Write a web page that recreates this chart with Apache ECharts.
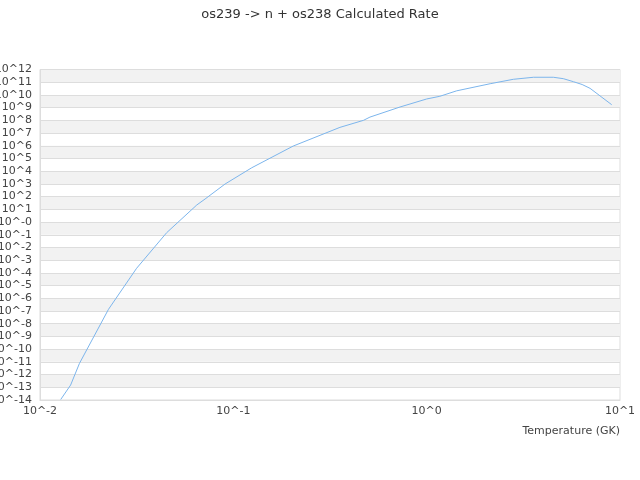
<!DOCTYPE html>
<html>
<head>
<meta charset="utf-8">
<script src="https://cdn.jsdelivr.net/npm/echarts@6/dist/echarts.min.js"></script>
<style>html,body{margin:0;padding:0;background:#fff}#c{width:640px;height:480px}</style>
</head>
<body>
<div id="c"></div>
<script>
const titleText = 'os239 -> n + os238 Calculated Rate';
const xAxisName = 'Temperature (GK)';
const temperatures = [0.0128, 0.0144, 0.016, 0.0226, 0.0316, 0.0452, 0.0647, 0.0714, 0.0906, 0.1245, 0.204, 0.356, 0.471, 0.509, 0.728, 1.0, 1.17, 1.43, 2.13, 2.81, 3.57, 4.52, 5.09, 5.74, 6.37, 7.0, 9.06];
const rates = [1.1e-14, 1.5e-13, 7.6e-12, 1.35e-7, 2.3e-4, 0.145, 21.9, 64.6, 977, 1.86e4, 9.5e5, 2.8e7, 1.0e8, 1.8e8, 1.12e9, 4.8e9, 7.8e9, 2.1e10, 7.6e10, 1.7e11, 2.45e11, 2.45e11, 1.9e11, 1.1e11, 6.6e10, 3.3e10, 1.7e9];
const yExponents = [-14,-13,-12,-11,-10,-9,-8,-7,-6,-5,-4,-3,-2,-1,0,1,2,3,4,5,6,7,8,9,10,11,12];
const yTickLabels = ['10^-14','10^-13','10^-12','10^-11','10^-10','10^-9','10^-8','10^-7','10^-6','10^-5','10^-4','10^-3','10^-2','10^-1','10^-0','10^1','10^2','10^3','10^4','10^5','10^6','10^7','10^8','10^9','10^10','10^11','10^12'];
const xExponents = [-2,-1,0,1];
const xTickLabels = ['10^-2','10^-1','10^0','10^1'];

function labelFor(v, exps, labels) {
  const e = Math.round(Math.log10(v));
  const i = exps.indexOf(e);
  return i >= 0 ? labels[i] : '';
}

const chart = echarts.init(document.getElementById('c'), null, {renderer: 'canvas'});
const font = 'DejaVu Sans';
chart.setOption({
  animation: false,
  backgroundColor: '#fff',
  title: {
    text: titleText,
    left: 'center',
    top: 3,
    textStyle: {fontFamily: font, fontSize: 13, fontWeight: 'normal', color: '#333'}
  },
  grid: {
    left: 40, right: 20, top: 69.5, bottom: 80,
    containLabel: false,
    outerBoundsMode: 'none',
    show: true, borderColor: '#ddd', borderWidth: 1, backgroundColor: 'transparent'
  },
  xAxis: {
    type: 'log',
    logBase: 10,
    min: 0.01,
    max: 10,
    interval: 1,
    name: xAxisName,
    nameLocation: 'end',
    nameGap: 0,
    nameTextStyle: {fontFamily: font, fontSize: 11, color: '#444', align: 'right', verticalAlign: 'top', padding: [26, 0, 0, 0]},
    axisLine: {show: true, lineStyle: {color: '#ddd'}},
    axisTick: {show: false},
    splitLine: {show: false},
    axisLabel: {
      fontFamily: font, fontSize: 11, color: '#444', margin: 6,
      formatter: v => labelFor(v, xExponents, xTickLabels)
    }
  },
  yAxis: {
    type: 'log',
    logBase: 10,
    min: 1e-14,
    max: 1e12,
    interval: 1,
    axisLine: {show: true, lineStyle: {color: '#ddd'}},
    axisTick: {show: false},
    splitLine: {show: true, lineStyle: {color: '#ddd', width: 1}},
    splitArea: {show: true, areaStyle: {color: ['rgba(255,255,255,0)', '#f2f2f2']}},
    axisLabel: {
      fontFamily: font, fontSize: 11, color: '#444', margin: 8,
      formatter: v => labelFor(v, yExponents, yTickLabels)
    }
  },
  series: [{
    type: 'line',
    data: temperatures.map((t, i) => [t, rates[i]]),
    showSymbol: false,
    clip: true,
    lineStyle: {color: '#7cb5ec', width: 1},
    itemStyle: {color: '#7cb5ec'}
  }]
});
</script>
</body>
</html>
